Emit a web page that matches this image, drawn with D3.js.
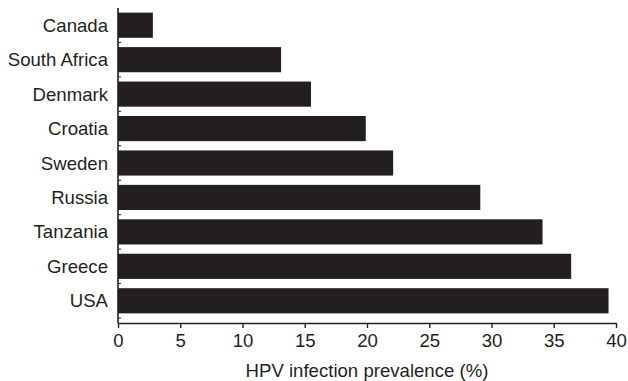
<!DOCTYPE html>
<html>
<head>
<meta charset="utf-8">
<script src="https://cdn.jsdelivr.net/npm/d3@7"></script>
<style>
  body { margin: 0; background: #fff; }
  svg text { font-family: "Liberation Sans", Arial, sans-serif; fill: #231f20; }
</style>
</head>
<body>
<div id="chart"></div>
<script>
const countries = ["Canada", "South Africa", "Denmark", "Croatia", "Sweden", "Russia", "Tanzania", "Greece", "USA"];
const prevalence = [2.8, 13.1, 15.5, 19.9, 22.1, 29.1, 34.1, 36.4, 39.4];
const xTicks = [0, 5, 10, 15, 20, 25, 30, 35, 40];
const xTitle = "HPV infection prevalence (%)";

const width = 628, height = 381;
const ink = "#231f20";
const fontSize = "18.6px";

const svg = d3.select("#chart").append("svg")
  .attr("width", width)
  .attr("height", height);

// scales
const x = d3.scaleLinear().domain([0, 40]).range([118, 616]);
const y = d3.scaleBand()
  .domain(countries)
  .range([8, 318])
  .paddingInner(0.27)
  .paddingOuter(0.135);

const axisY = 323;

// bars
svg.selectAll("rect.bar")
  .data(countries)
  .join("rect")
  .attr("class", "bar")
  .attr("x", x(0))
  .attr("y", d => y(d))
  .attr("width", (d, i) => x(prevalence[i]) - x(0))
  .attr("height", y.bandwidth())
  .attr("fill", ink);

// x axis
const xAxis = svg.append("g")
  .attr("transform", `translate(0,${axisY})`)
  .call(d3.axisBottom(x).tickValues(xTicks).tickSize(5).tickPadding(6).tickSizeOuter(0));
xAxis.select(".domain").attr("stroke", ink).attr("stroke-width", 1.6);
xAxis.selectAll(".tick line").attr("stroke", ink).attr("stroke-width", 1.4);
xAxis.selectAll(".tick text")
  .style("font-size", fontSize)
  .attr("fill", ink);

// y axis line
svg.append("line")
  .attr("x1", x(0)).attr("x2", x(0))
  .attr("y1", 8).attr("y2", axisY)
  .attr("stroke", ink)
  .attr("stroke-width", 1.6);

// small inward ticks between bars
const gap = y.step() * y.paddingInner() / 2;
svg.selectAll("line.ytick")
  .data(countries)
  .join("line")
  .attr("class", "ytick")
  .attr("x1", x(0)).attr("x2", x(0) + 3)
  .attr("y1", d => y(d) + y.bandwidth() + gap)
  .attr("y2", d => y(d) + y.bandwidth() + gap)
  .attr("stroke", ink)
  .attr("stroke-width", 1);

// category labels
svg.selectAll("text.cat")
  .data(countries)
  .join("text")
  .attr("class", "cat")
  .attr("x", x(0) - 10)
  .attr("y", d => y(d) + y.bandwidth() / 2)
  .attr("dy", "0.35em")
  .attr("text-anchor", "end")
  .style("font-size", fontSize)
  .text(d => d);

// axis title
svg.append("text")
  .attr("x", (x(0) + x(40)) / 2)
  .attr("y", 377)
  .attr("text-anchor", "middle")
  .style("font-size", fontSize)
  .text(xTitle);
</script>
</body>
</html>
